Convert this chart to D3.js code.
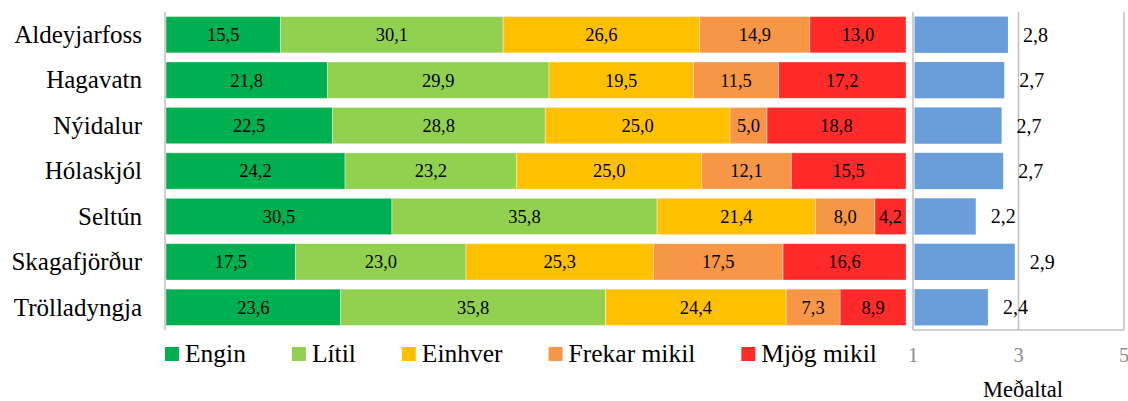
<!DOCTYPE html>
<html>
<head>
  <meta charset="UTF-8">
  <title>Stacked bars with mean</title>
  <script src="https://d3js.org/d3.v7.min.js"></script>
  <style>
    body { margin: 0; background: #fff; }
    .axisline { stroke: #bfbfbf; stroke-width: 1.5px; fill: none; }
  </style>
</head>
<body>
  <svg width="1128" height="401"></svg>

  <script>
    // categories (top to bottom)
    const places = ["Aldeyjarfoss", "Hagavatn", "Nýidalur", "Hólaskjól", "Seltún", "Skagafjörður", "Trölladyngja"];
    const levels = ["Engin", "Lítil", "Einhver", "Frekar mikil", "Mjög mikil"];
    const colors = ["#00b050", "#92d050", "#ffc000", "#f79646", "#ff2a2a"];

    // percentages per level, same order as places
    const engin   = [15.5, 21.8, 22.5, 24.2, 30.5, 17.5, 23.6];
    const litil   = [30.1, 29.9, 28.8, 23.2, 35.8, 23.0, 35.8];
    const einhver = [26.6, 19.5, 25.0, 25.0, 21.4, 25.3, 24.4];
    const frekar  = [14.9, 11.5, 5.0, 12.1, 8.0, 17.5, 7.3];
    const mjog    = [13.0, 17.2, 18.8, 15.5, 4.2, 16.6, 8.9];

    // mean score (1-5)
    const means = [2.80, 2.73, 2.68, 2.71, 2.19, 2.93, 2.42];
    const meanTicks = [1, 3, 5];

    const FONT = "'Liberation Serif', serif";

    const series = [engin, litil, einhver, frekar, mjog];
    const rows = places.map((p, i) => {
      const r = { place: p };
      levels.forEach((l, j) => r[l] = series[j][i]);
      return r;
    });

    const svg = d3.select("svg");
    const loc = d3.formatLocale({ decimal: ",", thousands: ".", grouping: [3], currency: ["", ""] });
    const fmt = loc.format(".1f");

    const y = d3.scaleBand().domain(places).range([12, 330]).paddingInner(0.2).paddingOuter(0.1);
    const x = d3.scaleLinear().domain([0, 1]).range([166, 906]);
    const xm = d3.scaleLinear().domain([1, 5]).range([913, 1124]);

    const stacked = d3.stack().keys(levels).offset(d3.stackOffsetExpand)(rows);

    // stacked bars
    const layer = svg.append("g").selectAll("g")
      .data(stacked)
      .join("g")
      .attr("fill", (d, i) => colors[i]);

    layer.selectAll("rect")
      .data(d => d)
      .join("rect")
      .attr("x", d => x(d[0]))
      .attr("y", d => y(d.data.place))
      .attr("width", d => x(d[1]) - x(d[0]))
      .attr("height", y.bandwidth())
      .attr("stroke", "#fff")
      .attr("stroke-opacity", 0.5)
      .attr("stroke-width", 0.75);

    layer.selectAll("text")
      .data(d => d.map(v => ({ v, key: d.key })))
      .join("text")
      .attr("x", d => (x(d.v[0]) + x(d.v[1])) / 2)
      .attr("y", d => y(d.v.data.place) + y.bandwidth() / 2)
      .attr("dy", "0.35em")
      .attr("text-anchor", "middle")
      .attr("font-family", FONT)
      .attr("font-size", 18.5)
      .attr("fill", "#000")
      .text(d => fmt(d.v.data[d.key]));

    // left axis line + category labels
    svg.append("line").attr("class", "axisline")
      .attr("x1", 165).attr("x2", 165).attr("y1", 12).attr("y2", 330);

    svg.append("g").selectAll("text")
      .data(places)
      .join("text")
      .attr("x", 142)
      .attr("y", d => y(d) + y.bandwidth() / 2)
      .attr("dy", "0.33em")
      .attr("text-anchor", "end")
      .attr("font-family", FONT)
      .attr("font-size", 25)
      .text(d => d);

    // mean panel
    svg.append("g").selectAll("line")
      .data(meanTicks)
      .join("line")
      .attr("class", "axisline")
      .attr("x1", d => xm(d)).attr("x2", d => xm(d))
      .attr("y1", 12).attr("y2", 330);

    svg.append("line").attr("class", "axisline")
      .attr("x1", xm(1)).attr("x2", xm(5)).attr("y1", 330).attr("y2", 330);

    svg.append("g").selectAll("rect")
      .data(means)
      .join("rect")
      .attr("x", xm(1) + 1.5)
      .attr("y", (d, i) => y(places[i]))
      .attr("width", d => xm(d) - xm(1) - 1.5)
      .attr("height", y.bandwidth())
      .attr("fill", "#6a9eda");

    svg.append("g").selectAll("text")
      .data(means)
      .join("text")
      .attr("x", d => xm(d) + 15)
      .attr("y", (d, i) => y(places[i]) + y.bandwidth() / 2)
      .attr("dy", "0.35em")
      .attr("font-family", FONT)
      .attr("font-size", 20)
      .text(d => fmt(d));

    svg.append("g").selectAll("text")
      .data(meanTicks)
      .join("text")
      .attr("x", d => xm(d))
      .attr("y", 362)
      .attr("text-anchor", "middle")
      .attr("font-family", FONT)
      .attr("font-size", 20.5)
      .attr("fill", "#8c8c8c")
      .text(d => d);

    svg.append("text")
      .attr("x", 1023)
      .attr("y", 397)
      .attr("text-anchor", "middle")
      .attr("font-family", FONT)
      .attr("font-size", 22.5)
      .text("Meðaltal");

    // legend
    const legend = svg.append("g");
    let lx = 165;
    levels.forEach((l, i) => {
      legend.append("rect")
        .attr("x", lx).attr("y", 347)
        .attr("width", 14).attr("height", 14)
        .attr("fill", colors[i]);
      const t = legend.append("text")
        .attr("x", lx + 20).attr("y", 362)
        .attr("font-family", FONT)
        .attr("font-size", 25.5)
        .text(l);
      lx += 20 + t.node().getComputedTextLength() + 46;
    });
  </script>
</body>
</html>
